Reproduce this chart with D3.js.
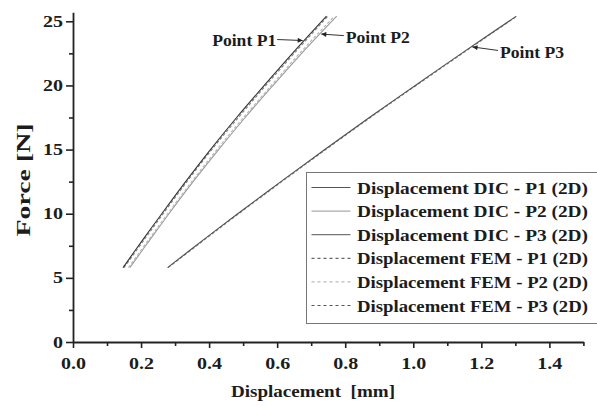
<!DOCTYPE html>
<html>
<head>
<meta charset="utf-8">
<script src="https://cdn.jsdelivr.net/npm/d3@7"></script>
<style>
  html, body { margin: 0; padding: 0; background: #fff; }
  #chart { width: 597px; height: 407px; position: relative; }
  text { font-family: "Liberation Serif", "Times New Roman", serif; font-weight: bold; fill: #1c1c1c; }
</style>
</head>
<body>
<div id="chart"></div>
<script>
// force levels (N), and displacement (mm) for each series
const forceLevels = [5.8, 8, 10, 12.5, 15, 17.5, 20, 22.5, 25.4];
const dicP1 = [0.147, 0.206, 0.261, 0.331, 0.404, 0.481, 0.562, 0.645, 0.745];
const dicP2 = [0.167, 0.227, 0.282, 0.353, 0.428, 0.506, 0.588, 0.672, 0.775];
const dicP3 = [0.278, 0.385, 0.484, 0.611, 0.740, 0.871, 1.006, 1.142, 1.303];
const femP1 = [0.150, 0.210, 0.265, 0.335, 0.408, 0.486, 0.567, 0.650, 0.749];
const femP2 = [0.163, 0.223, 0.278, 0.349, 0.423, 0.501, 0.583, 0.666, 0.768];
const femP3 = [0.280, 0.388, 0.487, 0.614, 0.743, 0.874, 1.009, 1.145, 1.305];

const seriesNames = [
    'Displacement DIC - P1 (2D)',
    'Displacement DIC - P2 (2D)',
    'Displacement DIC - P3 (2D)',
    'Displacement FEM - P1 (2D)',
    'Displacement FEM - P2 (2D)',
    'Displacement FEM - P3 (2D)',
];
const seriesValues = [dicP1, dicP2, dicP3, femP1, femP2, femP3];

const xMajorTicks = [0, 0.2, 0.4, 0.6, 0.8, 1.0, 1.2, 1.4];
const xMinorTicks = [0.1, 0.3, 0.5, 0.7, 0.9, 1.1, 1.3, 1.5];
const yMajorTicks = [0, 5, 10, 15, 20, 25];
const yMinorTicks = [2.5, 7.5, 12.5, 17.5, 22.5];

const pointLabels = ['Point P1', 'Point P2', 'Point P3'];
const pointSeries = [dicP1, dicP2, dicP3];
const pointForces = [23.5, 24.0, 23.0];

class ForceDisplacementChart {
    constructor(target) {
        this.size = { width: 597, height: 407 };
        this.svg = d3.select(`#${target}`).append('svg')
            .attr('width', this.size.width)
            .attr('height', this.size.height);
        this.x = d3.scaleLinear().domain([0, 1.5]).range([73, 583.4]);
        this.y = d3.scaleLinear().domain([0, 25.7]).range([342, 12.3]);
        this.styles = [
            { stroke: '#333', dash: null },
            { stroke: '#9a9a9a', dash: null },
            { stroke: '#505050', dash: null },
            { stroke: '#808080', dash: '3,2' },
            { stroke: '#b5b5b5', dash: '3,2' },
            { stroke: '#8a8a8a', dash: '3,2' },
        ];
        this.legendStyles = [
            { stroke: '#555', dash: null },
            { stroke: '#aaa', dash: null },
            { stroke: '#777', dash: null },
            { stroke: '#666', dash: '3,3' },
            { stroke: '#bbb', dash: '3,3' },
            { stroke: '#555', dash: '3,3' },
        ];
        this.drawAxes();
        this.drawLines();
        this.drawPoints();
        this.drawLegend();
    }

    stretch(sel, k) {
        sel.each(function () {
            const w = this.getComputedTextLength();
            d3.select(this).attr('textLength', w * k).attr('lengthAdjust', 'spacingAndGlyphs');
        });
    }

    drawAxes() {
        const { x, y, svg } = this;
        const gx = svg.append('g').attr('transform', `translate(0,${y(0)})`)
            .call(d3.axisBottom(x).tickValues(xMajorTicks).tickFormat(d3.format('.1f'))
                .tickSize(6).tickSizeOuter(0).tickPadding(9.5));
        svg.append('g').attr('transform', `translate(0,${y(0)})`)
            .call(d3.axisBottom(x).tickValues(xMinorTicks).tickFormat('').tickSize(4).tickSizeOuter(0))
            .call((g) => g.select('.domain').remove());

        const gy = svg.append('g').attr('transform', `translate(${x(0)},0)`)
            .call(d3.axisLeft(y).tickValues(yMajorTicks).tickSize(7).tickSizeOuter(0).tickPadding(3));
        svg.append('g').attr('transform', `translate(${x(0)},0)`)
            .call(d3.axisLeft(y).tickValues(yMinorTicks).tickFormat('').tickSize(4).tickSizeOuter(0))
            .call((g) => g.select('.domain').remove());

        svg.selectAll('.domain').attr('stroke', '#222').attr('stroke-width', 1.8);
        svg.selectAll('.tick line').attr('stroke', '#222').attr('stroke-width', 1.6);
        [gx, gy].forEach((g) => {
            g.selectAll('text').attr('font-size', 16).attr('fill', '#1c1c1c')
                .style('font-family', '"Liberation Serif", serif').style('font-weight', 'bold');
            this.stretch(g.selectAll('text'), 1.25);
        });

        svg.append('text')
            .attr('x', 313).attr('y', 397)
            .attr('text-anchor', 'middle')
            .attr('font-size', 17)
            .style('white-space', 'pre')
            .attr('textLength', 164)
            .attr('lengthAdjust', 'spacingAndGlyphs')
            .text('Displacement  [mm]');

        svg.append('text')
            .attr('transform', 'translate(30,180) rotate(-90)')
            .attr('text-anchor', 'middle')
            .attr('font-size', 19)
            .attr('textLength', 113)
            .attr('lengthAdjust', 'spacingAndGlyphs')
            .text('Force [N]');
    }

    drawLines() {
        const { x, y, svg } = this;
        const line = d3.line()
            .x((d) => x(d.disp))
            .y((d) => y(d.force))
            .curve(d3.curveCatmullRom.alpha(0.5));
        const order = [1, 4, 3, 0, 5, 2];
        order.forEach((i) => {
            const data = seriesValues[i].map((v, k) => ({ disp: v, force: forceLevels[k] }));
            svg.append('path')
                .attr('d', line(data))
                .attr('fill', 'none')
                .attr('stroke', this.styles[i].stroke)
                .attr('stroke-width', 1.1)
                .attr('stroke-dasharray', this.styles[i].dash);
        });
    }

    dispAt(series, f) {
        const k = d3.bisectRight(forceLevels, f) - 1;
        const t = (f - forceLevels[k]) / (forceLevels[k + 1] - forceLevels[k]);
        return series[k] + t * (series[k + 1] - series[k]);
    }

    drawPoints() {
        const { x, y, svg } = this;
        svg.append('defs').append('marker')
            .attr('id', 'arr')
            .attr('viewBox', '0 0 10 10')
            .attr('refX', 10).attr('refY', 5)
            .attr('markerWidth', 7).attr('markerHeight', 5)
            .attr('markerUnits', 'userSpaceOnUse')
            .attr('orient', 'auto')
            .append('path').attr('d', 'M0,0L10,5L0,10z').attr('fill', '#222');

        // label offsets relative to the arrow tip (px)
        const offsets = [
            { from: [-27, -1], text: [-28, 5], anchor: 'end' },
            { from: [24, 1.5], text: [26, 8.5], anchor: 'start' },
            { from: [27, 3.5], text: [29, 11.5], anchor: 'start' },
        ];
        pointLabels.forEach((label, i) => {
            const px = x(this.dispAt(pointSeries[i], pointForces[i]));
            const py = y(pointForces[i]);
            const o = offsets[i];
            svg.append('line')
                .attr('x1', px + o.from[0]).attr('y1', py + o.from[1])
                .attr('x2', px + (o.from[0] < 0 ? -1.5 : 1.5)).attr('y2', py)
                .attr('stroke', '#333').attr('stroke-width', 1)
                .attr('marker-end', 'url(#arr)');
            const t = svg.append('text')
                .attr('x', px + o.text[0]).attr('y', py + o.text[1])
                .attr('text-anchor', o.anchor)
                .attr('font-size', 16)
                .text(label);
            this.stretch(t, 1.1);
        });
    }

    drawLegend() {
        const { svg } = this;
        const g = svg.append('g').attr('transform', 'translate(306.5,172.5)');
        g.append('rect')
            .attr('width', 300).attr('height', 151)
            .attr('fill', '#fff').attr('stroke', '#777').attr('stroke-width', 1);
        seriesNames.forEach((name, i) => {
            const cy = 15 + i * 23.6;
            g.append('line')
                .attr('x1', 5).attr('x2', 44).attr('y1', cy).attr('y2', cy)
                .attr('stroke', this.legendStyles[i].stroke)
                .attr('stroke-width', 1.2)
                .attr('stroke-dasharray', this.legendStyles[i].dash);
            g.append('text')
                .attr('x', 50.5).attr('y', cy + 6)
                .attr('font-size', 17)
                .attr('textLength', 231)
                .attr('lengthAdjust', 'spacingAndGlyphs')
                .text(name);
        });
    }
}

new ForceDisplacementChart('chart');
</script>
</body>
</html>
